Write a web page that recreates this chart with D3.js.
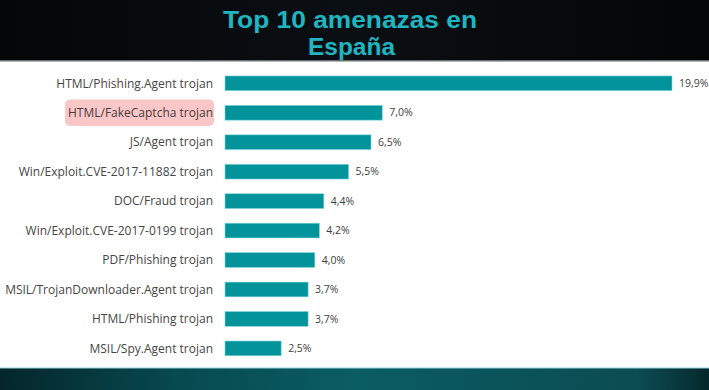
<!DOCTYPE html>
<html>
<head>
<meta charset="utf-8">
<script src="https://cdn.jsdelivr.net/npm/d3@7"></script>
<style>
  html, body { margin: 0; padding: 0; background: #fff; }
  svg { display: block; }
</style>
</head>
<body>
<svg id="chart" width="709" height="390"></svg>
<script>
const titleLines = ["Top 10 amenazas en", "España"];
const categories = [
  "HTML/Phishing.Agent trojan",
  "HTML/FakeCaptcha trojan",
  "JS/Agent trojan",
  "Win/Exploit.CVE-2017-11882 trojan",
  "DOC/Fraud trojan",
  "Win/Exploit.CVE-2017-0199 trojan",
  "PDF/Phishing trojan",
  "MSIL/TrojanDownloader.Agent trojan",
  "HTML/Phishing trojan",
  "MSIL/Spy.Agent trojan"
];
const values = [19.9, 7.0, 6.5, 5.5, 4.4, 4.2, 4.0, 3.7, 3.7, 2.5];
const highlighted = ["HTML/FakeCaptcha trojan"];

const W = 709, H = 390;
const svg = d3.select("#chart");
const defs = svg.append("defs");

const hg = defs.append("linearGradient").attr("id", "hdr").attr("x1", 0).attr("x2", 1);
hg.append("stop").attr("offset", "0%").attr("stop-color", "#040608");
hg.append("stop").attr("offset", "50%").attr("stop-color", "#0a0f13");
hg.append("stop").attr("offset", "100%").attr("stop-color", "#040507");

const fg = defs.append("linearGradient").attr("id", "ftr").attr("x1", 0).attr("x2", 1);
fg.append("stop").attr("offset", "0%").attr("stop-color", "#04262b");
fg.append("stop").attr("offset", "25%").attr("stop-color", "#074a50");
fg.append("stop").attr("offset", "50%").attr("stop-color", "#0a5d63");
fg.append("stop").attr("offset", "75%").attr("stop-color", "#0a5258");
fg.append("stop").attr("offset", "90%").attr("stop-color", "#0c4c52");
fg.append("stop").attr("offset", "100%").attr("stop-color", "#05282c");

// header
svg.append("rect").attr("x", 0).attr("y", 0).attr("width", W).attr("height", 61).attr("fill", "url(#hdr)");
svg.append("rect").attr("x", 0).attr("y", 60).attr("width", W).attr("height", 1.5).attr("fill", "#6b6e70");
// footer
svg.append("rect").attr("x", 0).attr("y", 368).attr("width", W).attr("height", 22).attr("fill", "url(#ftr)");
svg.append("rect").attr("x", 0).attr("y", 367.5).attr("width", W).attr("height", 1).attr("fill", "#8fd0d6");

// title
const title = svg.append("text")
  .attr("text-anchor", "middle")
  .attr("fill", "#1fb6c1")
  .attr("font-family", "Liberation Sans, Arial, sans-serif")
  .attr("font-weight", "bold")
  .attr("font-size", 23);
title.append("tspan").attr("x", 350).attr("y", 28).attr("textLength", 254).attr("lengthAdjust", "spacingAndGlyphs").text(titleLines[0]);
title.append("tspan").attr("x", 351.5).attr("y", 55).attr("textLength", 87).attr("lengthAdjust", "spacingAndGlyphs").text(titleLines[1]);

// scales
const y = d3.scaleBand().domain(categories).range([68.6, 363.1]).paddingInner(0.5).paddingOuter(0.25);
const x = d3.scaleLinear().domain([0, 19.9]).range([225, 672]);

const fmt = v => d3.format(".1f")(v).replace(".", ",") + "%";

// highlight boxes
svg.append("g").selectAll("rect")
  .data(categories.filter(c => highlighted.includes(c)))
  .join("rect")
  .attr("x", 65)
  .attr("y", d => y(d) + y.bandwidth() / 2 - 13.3)
  .attr("width", 149)
  .attr("height", 26.6)
  .attr("rx", 5)
  .attr("fill", "#f9c7c7");

// category labels
svg.append("g").selectAll("text")
  .data(categories)
  .join("text")
  .attr("x", 213)
  .attr("y", d => y(d) + y.bandwidth() / 2)
  .attr("dy", "0.35em")
  .attr("text-anchor", "end")
  .attr("font-family", "Open Sans, sans-serif")
  .attr("font-size", 12)
  .attr("fill", d => highlighted.includes(d) ? "#4a3a3a" : "#454545")
  .text(d => d);

// bars
svg.append("g").selectAll("rect")
  .data(categories)
  .join("rect")
  .attr("x", x(0))
  .attr("y", d => y(d))
  .attr("width", (d, i) => x(values[i]) - x(0))
  .attr("height", y.bandwidth())
  .attr("fill", "#03949b")
  .attr("stroke", "#7fd3d8")
  .attr("stroke-width", 0.6);

// value labels
svg.append("g").selectAll("text")
  .data(categories)
  .join("text")
  .attr("x", (d, i) => x(values[i]) + 7)
  .attr("y", d => y(d) + y.bandwidth() / 2)
  .attr("dy", "0.35em")
  .attr("font-family", "Open Sans, sans-serif")
  .attr("font-size", 10.5)
  .attr("fill", "#404040")
  .text((d, i) => fmt(values[i]));
</script>
</body>
</html>
